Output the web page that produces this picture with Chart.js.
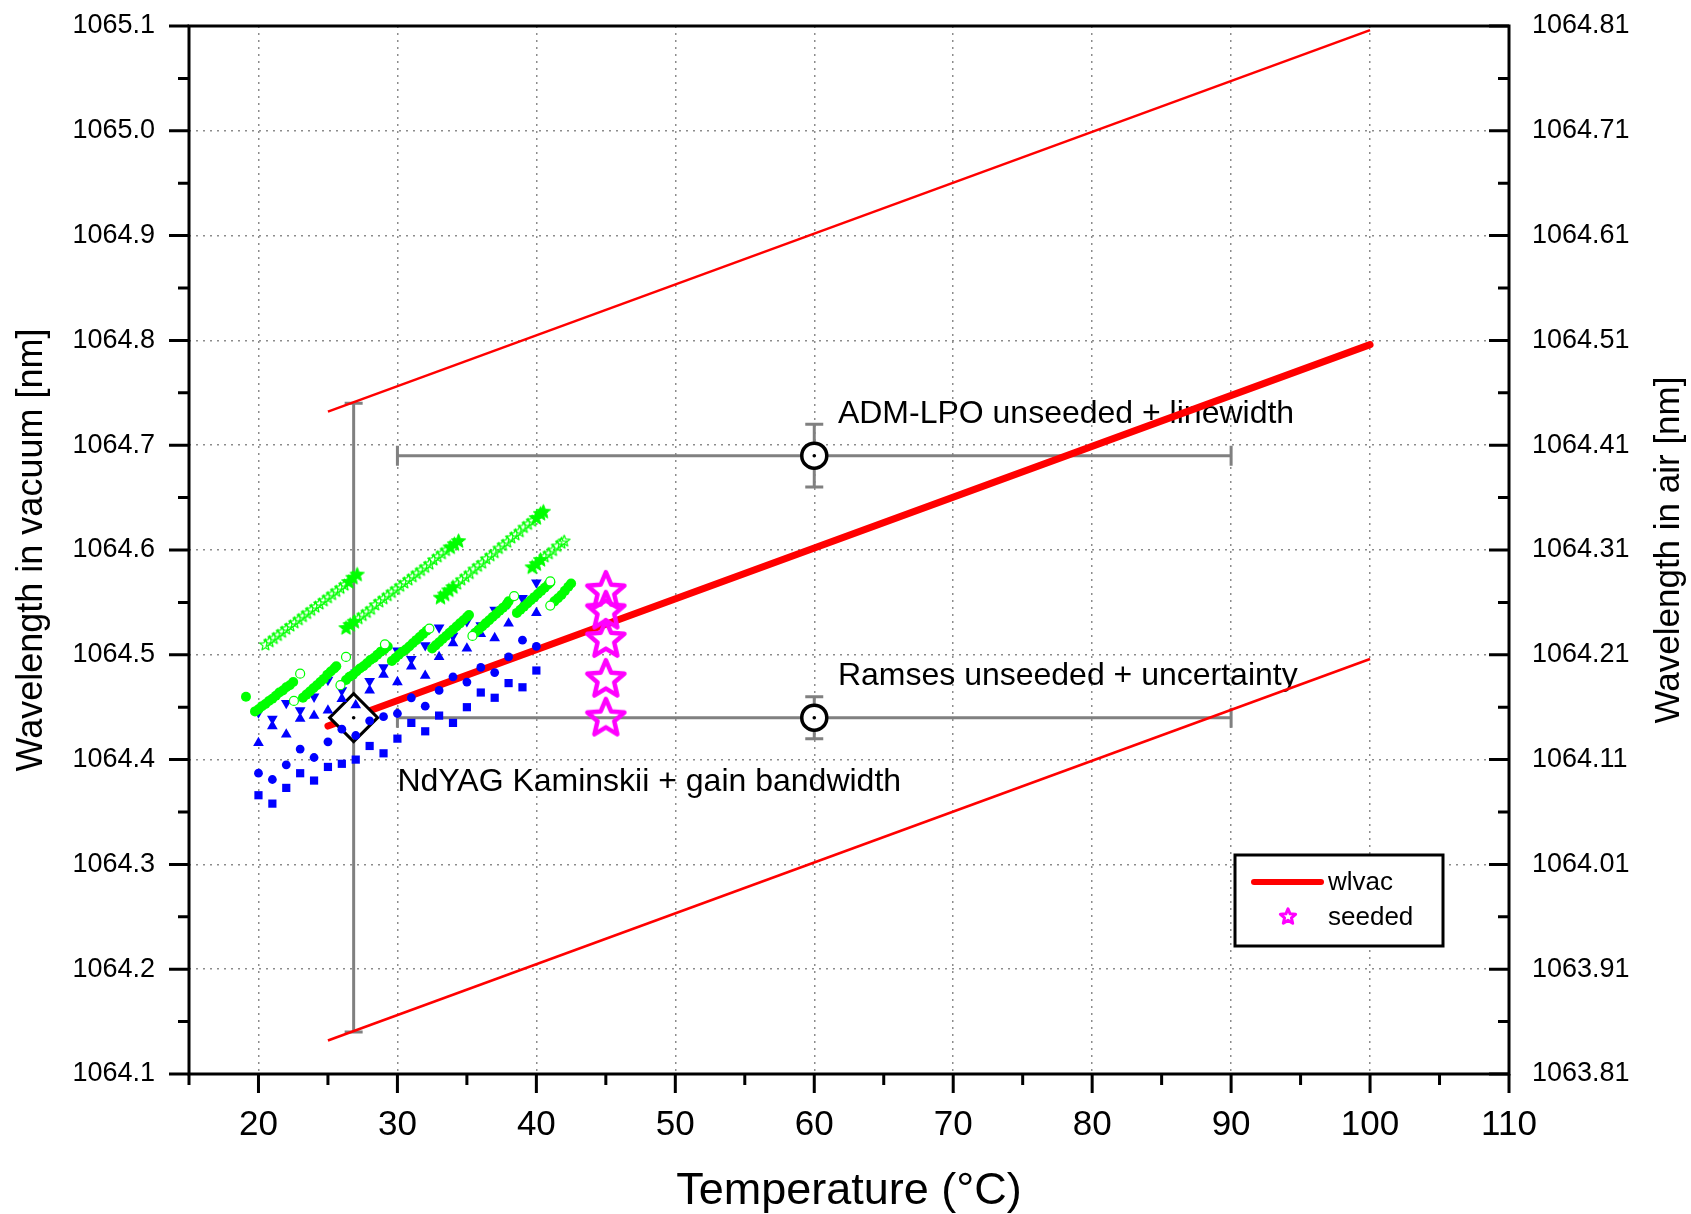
<!DOCTYPE html>
<html>
<head>
<meta charset="utf-8">
<script src="https://cdn.jsdelivr.net/npm/chart.js@4.4.0/dist/chart.umd.min.js"></script>
<style>
  html, body { margin: 0; padding: 0; background: #fff; }
</style>
</head>
<body>
<canvas id="myChart" width="1691" height="1214"></canvas>
<script>
// tick labels
const xTicks = [20, 30, 40, 50, 60, 70, 80, 90, 100, 110];
const vacTicks = [1064.1, 1064.2, 1064.3, 1064.4, 1064.5, 1064.6, 1064.7, 1064.8, 1064.9, 1065.0, 1065.1];
const airTicks = [1063.81, 1063.91, 1064.01, 1064.11, 1064.21, 1064.31, 1064.41, 1064.51, 1064.61, 1064.71, 1064.81];

// wlvac line and +/- bands
const lineT = [25, 100];
const wlvac = [1064.432, 1064.796];
const wlvacUpper = [1064.732, 1065.096];
const wlvacLower = [1064.132, 1064.496];

// blue data
const blueT = [20, 21, 22, 23, 24, 25, 26, 27, 28, 29, 30, 31, 32, 33, 34, 35, 36, 37, 38, 39, 40];
const blueSquares = [1064.366, 1064.358, 1064.373, 1064.387, 1064.380, 1064.393, 1064.396, 1064.400, 1064.413, 1064.406, 1064.420, 1064.435, 1064.427, 1064.442, 1064.435, 1064.450, 1064.464, 1064.459, 1064.473, 1064.469, 1064.485];
const blueCircles = [1064.387, 1064.381, 1064.395, 1064.410, 1064.402, 1064.417, 1064.429, 1064.423, 1064.437, 1064.441, 1064.444, 1064.459, 1064.451, 1064.466, 1064.479, 1064.474, 1064.488, 1064.483, 1064.498, 1064.514, 1064.508];
const blueUp = [1064.416, 1064.432, 1064.424, 1064.439, 1064.442, 1064.447, 1064.458, 1064.452, 1064.466, 1064.481, 1064.474, 1064.489, 1064.480, 1064.498, 1064.511, 1064.506, 1064.520, 1064.516, 1064.530, 1064.547, 1064.540];
const blueDown = [1064.445, 1064.439, 1064.454, 1064.447, 1064.460, 1064.476, 1064.466, 1064.483, 1064.475, 1064.488, 1064.504, 1064.496, 1064.509, 1064.526, 1064.518, 1064.532, 1064.528, 1064.543, 1064.549, 1064.554, 1064.569];

// green filled circles
const greenT = [19.1,
  19.75, 20.0, 20.25, 20.5, 20.75, 21.0, 21.25, 21.5, 21.75, 22.0, 22.25, 22.5,
  23.2, 23.45, 23.7, 23.95, 24.2, 24.45, 24.7, 24.95, 25.2, 25.45, 25.6,
  26.3, 26.55, 26.8, 27.05, 27.3, 27.55, 27.8, 28.05, 28.3, 28.55, 28.8, 29.05, 29.3,
  29.6, 29.85, 30.1, 30.35, 30.6, 30.85, 31.1, 31.35, 31.6, 31.85, 32.1,
  32.5, 32.75, 33.0, 33.25, 33.5, 33.75, 34.0, 34.25, 34.5, 34.75, 35.0, 35.15,
  35.6, 35.85, 36.1, 36.35, 36.6, 36.85, 37.1, 37.35, 37.6, 37.85, 38.0,
  38.6, 38.85, 39.1, 39.35, 39.6, 39.85, 40.1, 40.35, 40.6, 40.85, 41.0,
  41.3, 41.55, 41.8, 42.05, 42.3, 42.5];
const greenWl = [1064.460,
  1064.446, 1064.448, 1064.451, 1064.453, 1064.456, 1064.458, 1064.461, 1064.464, 1064.466, 1064.469, 1064.471, 1064.474,
  1064.459, 1064.462, 1064.465, 1064.468, 1064.471, 1064.474, 1064.477, 1064.481, 1064.484, 1064.487, 1064.489,
  1064.476, 1064.479, 1064.481, 1064.484, 1064.487, 1064.489, 1064.492, 1064.495, 1064.497, 1064.500, 1064.503, 1064.505, 1064.508,
  1064.494, 1064.497, 1064.500, 1064.503, 1064.505, 1064.508, 1064.511, 1064.514, 1064.517, 1064.520, 1064.523,
  1064.506, 1064.509, 1064.512, 1064.515, 1064.518, 1064.521, 1064.524, 1064.527, 1064.530, 1064.533, 1064.536, 1064.538,
  1064.521, 1064.524, 1064.527, 1064.530, 1064.533, 1064.536, 1064.539, 1064.542, 1064.545, 1064.548, 1064.551,
  1064.540, 1064.543, 1064.546, 1064.549, 1064.552, 1064.555, 1064.558, 1064.561, 1064.564, 1064.567, 1064.569,
  1064.551, 1064.554, 1064.557, 1064.561, 1064.565, 1064.568];

// green open circles
const greenOpenT = [22.55, 23.0, 25.9, 26.3, 29.1, 32.3, 35.4, 38.4, 41.0, 41.0];
const greenOpenWl = [1064.456, 1064.482, 1064.471, 1064.498, 1064.510, 1064.525, 1064.518, 1064.556, 1064.547, 1064.570];

// green stars (open and filled)
const starOpenT = [20.5, 20.8, 21.1, 21.4, 21.7, 22.0, 22.3, 22.6, 22.9, 23.2, 23.5, 23.8, 24.1, 24.4, 24.7, 25.0, 25.3, 25.6, 25.9, 26.2,
  27.2, 27.5, 27.8, 28.1, 28.4, 28.7, 29.0, 29.3, 29.6, 29.9, 30.2, 30.5, 30.8, 31.1, 31.4, 31.7, 32.0, 32.3, 32.6, 32.9, 33.2, 33.5,
  34.3, 34.6, 34.9, 35.2, 35.5, 35.8, 36.1, 36.4, 36.7, 37.0, 37.3, 37.6, 37.9, 38.2, 38.5, 38.8, 39.1, 39.4, 39.7,
  40.6, 40.9, 41.2, 41.5, 41.8, 42.0];
const starOpenWl = [1064.510, 1064.513, 1064.516, 1064.519, 1064.522, 1064.525, 1064.528, 1064.531, 1064.534, 1064.537, 1064.540, 1064.543, 1064.546, 1064.549, 1064.552, 1064.555, 1064.558, 1064.561, 1064.564, 1064.567,
  1064.535, 1064.538, 1064.541, 1064.544, 1064.548, 1064.551, 1064.554, 1064.557, 1064.560, 1064.563, 1064.566, 1064.569, 1064.572, 1064.575, 1064.578, 1064.581, 1064.584, 1064.587, 1064.591, 1064.594, 1064.597, 1064.600,
  1064.568, 1064.572, 1064.575, 1064.578, 1064.582, 1064.585, 1064.588, 1064.592, 1064.595, 1064.598, 1064.602, 1064.605, 1064.608, 1064.612, 1064.615, 1064.618, 1064.622, 1064.625, 1064.628,
  1064.594, 1064.597, 1064.600, 1064.604, 1064.607, 1064.609];
const starFullT = [26.5, 26.8, 27.1, 26.3, 26.6, 26.9, 33.8, 34.1, 34.4, 33.1, 33.4, 33.7, 34.0, 40.0, 40.3, 40.5, 39.7, 40.0, 40.3];
const starFullWl = [1064.570, 1064.574, 1064.577, 1064.526, 1064.529, 1064.532, 1064.603, 1064.606, 1064.609, 1064.555, 1064.558, 1064.562, 1064.565, 1064.631, 1064.635, 1064.637, 1064.584, 1064.587, 1064.591];

// seeded
const seededT = [45, 45, 45, 45, 45];
const seededWl = [1064.562, 1064.543, 1064.516, 1064.478, 1064.441];

// reference points with error bars
const markNames = ['NdYAG Kaminskii + gain bandwidth', 'ADM-LPO unseeded + linewidth', 'Ramses unseeded + uncertainty'];
const markT = [26.85, 60, 60];
const markWl = [1064.44, 1064.69, 1064.44];
const errTLo = [26.85, 30, 30];
const errTHi = [26.85, 90, 90];
const errWlLo = [1064.14, 1064.66, 1064.42];
const errWlHi = [1064.74, 1064.72, 1064.46];

const FONT = 'Arial, "Liberation Sans", sans-serif';

function makeStar(R, r, lw, stroke, fill) {
    const s = Math.ceil(2 * R + 2 * lw + 4);
    const c = document.createElement('canvas');
    c.width = s; c.height = s;
    const g = c.getContext('2d');
    g.translate(s / 2, s / 2 + R * 0.095);
    g.beginPath();
    for (let i = 0; i < 10; i++) {
        const a = -Math.PI / 2 + i * Math.PI / 5;
        const rr = i % 2 ? r : R;
        g.lineTo(rr * Math.cos(a), rr * Math.sin(a));
    }
    g.closePath();
    if (fill) { g.fillStyle = fill; g.fill(); }
    if (stroke) { g.lineJoin = 'round'; g.lineWidth = lw; g.strokeStyle = stroke; g.stroke(); }
    return c;
}

const seededStar = makeStar(19.5, 8.8, 4.5, '#ff00ff', null);
const legendStar = makeStar(8, 3.6, 3, '#ff00ff', null);
const greenStarOpen = makeStar(6, 2.6, 1.2, '#00ff00', null);
const greenStarFull = makeStar(7.5, 3.3, 1, '#00ff00', '#00ff00');

const pts = (xs, ys) => xs.map((v, i) => ({ x: v, y: ys[i] }));

const decorations = {
    id: 'decorations',
    beforeDatasetsDraw(chart) {
        const { ctx, scales: { x, y } } = chart;
        ctx.save();
        // error bars
        ctx.strokeStyle = '#808080';
        ctx.lineWidth = 3;
        ctx.beginPath();
        for (let i = 0; i < markT.length; i++) {
            const cx = x.getPixelForValue(markT[i]);
            const cy = y.getPixelForValue(markWl[i]);
            const x0 = x.getPixelForValue(errTLo[i]), x1 = x.getPixelForValue(errTHi[i]);
            const y0 = y.getPixelForValue(errWlLo[i]), y1 = y.getPixelForValue(errWlHi[i]);
            if (x1 - x0 > 1) {
                ctx.moveTo(x0, cy); ctx.lineTo(x1, cy);
                ctx.moveTo(x0, cy - 10); ctx.lineTo(x0, cy + 10);
                ctx.moveTo(x1, cy - 10); ctx.lineTo(x1, cy + 10);
            }
            if (y0 - y1 > 1) {
                ctx.moveTo(cx, y0); ctx.lineTo(cx, y1);
                ctx.moveTo(cx - 9, y0); ctx.lineTo(cx + 9, y0);
                ctx.moveTo(cx - 9, y1); ctx.lineTo(cx + 9, y1);
            }
        }
        ctx.stroke();
        // labels next to the reference points
        const labelPos = [[30.0, 1064.378], [61.7, 1064.730], [61.7, 1064.480]];
        ctx.fillStyle = '#000';
        ctx.font = '32px ' + FONT;
        ctx.textAlign = 'left';
        ctx.textBaseline = 'middle';
        markNames.forEach((t, i) => {
            ctx.fillText(t, x.getPixelForValue(labelPos[i][0]), y.getPixelForValue(labelPos[i][1]));
        });
        ctx.restore();
    },
    afterDraw(chart) {
        const { ctx, chartArea, scales: { x, y, y2 } } = chart;
        const { left, right, top, bottom } = chartArea;
        ctx.save();
        ctx.strokeStyle = '#000';
        ctx.lineWidth = 3;
        ctx.strokeRect(left, top, right - left, bottom - top);
        ctx.beginPath();
        vacTicks.forEach((v, i) => {
            const py = y.getPixelForValue(v);
            ctx.moveTo(left - 20, py); ctx.lineTo(left, py);
            if (i > 0) {
                const pm = y.getPixelForValue((v + vacTicks[i - 1]) / 2);
                ctx.moveTo(left - 11, pm); ctx.lineTo(left, pm);
            }
        });
        airTicks.forEach((v, i) => {
            const py = y2.getPixelForValue(v);
            ctx.moveTo(right, py); ctx.lineTo(right - 20, py);
            if (i > 0) {
                const pm = y2.getPixelForValue((v + airTicks[i - 1]) / 2);
                ctx.moveTo(right, pm); ctx.lineTo(right - 11, pm);
            }
        });
        xTicks.forEach(v => {
            const px = x.getPixelForValue(v);
            ctx.moveTo(px, bottom); ctx.lineTo(px, bottom + 19);
            const pm = x.getPixelForValue(v - 5);
            ctx.moveTo(pm, bottom); ctx.lineTo(pm, bottom + 11);
        });
        ctx.stroke();

        // right axis title, reading upwards
        ctx.fillStyle = '#000';
        ctx.font = '35px ' + FONT;
        ctx.textAlign = 'center';
        ctx.textBaseline = 'middle';
        ctx.translate(chart.width - 22, (top + bottom) / 2);
        ctx.rotate(-Math.PI / 2);
        ctx.fillText('Wavelength in air [nm]', 0, 0);
        ctx.setTransform(1, 0, 0, 1, 0, 0);

        // legend box
        const lx = right - 274, ly = bottom - 219;
        ctx.fillStyle = '#fff';
        ctx.fillRect(lx, ly, 208, 91);
        ctx.lineWidth = 3;
        ctx.strokeStyle = '#000';
        ctx.strokeRect(lx, ly, 208, 91);
        ctx.beginPath();
        ctx.strokeStyle = '#ff0000';
        ctx.lineWidth = 6;
        ctx.lineCap = 'round';
        ctx.moveTo(lx + 19, ly + 27); ctx.lineTo(lx + 86, ly + 27);
        ctx.stroke();
        ctx.drawImage(legendStar, lx + 53 - legendStar.width / 2, ly + 61 - legendStar.height / 2);
        ctx.fillStyle = '#000';
        ctx.font = '26px ' + FONT;
        ctx.textAlign = 'left';
        ctx.fillText('wlvac', lx + 93, ly + 28);
        ctx.fillText('seeded', lx + 93, ly + 63);
        ctx.restore();
    }
};

const tickFont = (s) => ({ size: s, family: FONT });

// fixed axis sizes so the plot area sits where the original one does
const fixWidth = w => s => { s.width = w; s.paddingTop = 0; s.paddingBottom = 0; };

new Chart(document.getElementById('myChart'), {
    type: 'scatter',
    data: {
        datasets: [
            { label: 'centre', data: pts(markT, markWl), pointStyle: 'circle', pointRadius: 1.8,
              pointBackgroundColor: '#000', pointBorderWidth: 0 },
            { label: 'green open', data: pts(greenOpenT, greenOpenWl), pointStyle: 'circle', pointRadius: 4.5,
              pointBackgroundColor: '#fff', pointBorderColor: '#00ff00', pointBorderWidth: 1.2 },
            { label: 'green', data: pts(greenT, greenWl), pointStyle: 'circle', pointRadius: 5,
              pointBackgroundColor: '#00ff00', pointBorderWidth: 0 },
            { label: 'green star full', data: pts(starFullT, starFullWl), pointStyle: greenStarFull },
            { label: 'green star', data: pts(starOpenT, starOpenWl), pointStyle: greenStarOpen },
            { label: 'squares', data: pts(blueT, blueSquares), pointStyle: 'rect', pointRadius: 5.8,
              pointBackgroundColor: '#0000ff', pointBorderWidth: 0 },
            { label: 'circles', data: pts(blueT, blueCircles), pointStyle: 'circle', pointRadius: 4.4,
              pointBackgroundColor: '#0000ff', pointBorderWidth: 0 },
            { label: 'up', data: pts(blueT, blueUp), pointStyle: 'triangle', pointRadius: 6.2,
              pointBackgroundColor: '#0000ff', pointBorderWidth: 0 },
            { label: 'down', data: pts(blueT, blueDown), pointStyle: 'triangle', pointRadius: 6.2, pointRotation: 180,
              pointBackgroundColor: '#0000ff', pointBorderWidth: 0 },
            { label: 'NdYAG', data: pts(markT.slice(0, 1), markWl.slice(0, 1)), pointStyle: 'rectRot', pointRadius: 24,
              pointBackgroundColor: '#fff', pointBorderColor: '#000', pointBorderWidth: 3 },
            { label: 'rings', data: pts(markT.slice(1), markWl.slice(1)), pointStyle: 'circle', pointRadius: 12.5,
              pointBackgroundColor: '#fff', pointBorderColor: '#000', pointBorderWidth: 3.5 },
            { label: 'seeded', data: pts(seededT, seededWl), pointStyle: seededStar },
            { label: 'wlvac', data: pts(lineT, wlvac), showLine: true, pointRadius: 0,
              borderColor: '#ff0000', borderWidth: 7, borderCapStyle: 'round' },
            { label: 'upper', data: pts(lineT, wlvacUpper), showLine: true, pointRadius: 0,
              borderColor: '#ff0000', borderWidth: 2.5 },
            { label: 'lower', data: pts(lineT, wlvacLower), showLine: true, pointRadius: 0,
              borderColor: '#ff0000', borderWidth: 2.5 }
        ]
    },
    options: {
        responsive: false,
        animation: false,
        events: [],
        layout: { autoPadding: false, padding: { top: 26, left: 0, right: 0, bottom: 0 } },
        plugins: { legend: { display: false }, tooltip: { enabled: false } },
        scales: {
            x: {
                type: 'linear', position: 'bottom', min: 15, max: 110,
                afterBuildTicks: s => { s.ticks = xTicks.map(v => ({ value: v })); },
                afterFit: s => { s.height = 140; },
                ticks: { autoSkip: false, maxRotation: 0, font: tickFont(35), color: '#000', padding: 30,
                         callback: v => String(v) },
                grid: { color: '#8c8c8c', lineWidth: 1.5, drawTicks: false },
                border: { display: false, dash: [2, 5] },
                title: { display: true, text: 'Temperature (°C)', color: '#000',
                         font: { size: 45, family: FONT, lineHeight: 1 }, padding: { top: 0, bottom: 0 } }
            },
            y: {
                type: 'linear', position: 'left', min: 1064.1, max: 1065.1,
                afterBuildTicks: s => { s.ticks = vacTicks.map(v => ({ value: v })); },
                afterFit: fixWidth(189),
                ticks: { font: tickFont(27), color: '#000', padding: 34, callback: v => v.toFixed(1) },
                grid: { color: '#8c8c8c', lineWidth: 1.5, drawTicks: false },
                border: { display: false, dash: [2, 5] },
                title: { display: true, text: 'Wavelength in vacuum [nm]', color: '#000',
                         font: { size: 36, family: FONT, lineHeight: 1.2 }, padding: { top: 10, bottom: 0 } }
            },
            y2: {
                type: 'linear', position: 'right', min: 1063.81, max: 1064.81,
                afterBuildTicks: s => { s.ticks = airTicks.map(v => ({ value: v })); },
                afterFit: fixWidth(182),
                ticks: { font: tickFont(27), color: '#000', padding: 23, callback: v => v.toFixed(2) },
                grid: { display: false, drawTicks: false },
                border: { display: false }
            }
        }
    },
    plugins: [decorations]
});
</script>
</body>
</html>
